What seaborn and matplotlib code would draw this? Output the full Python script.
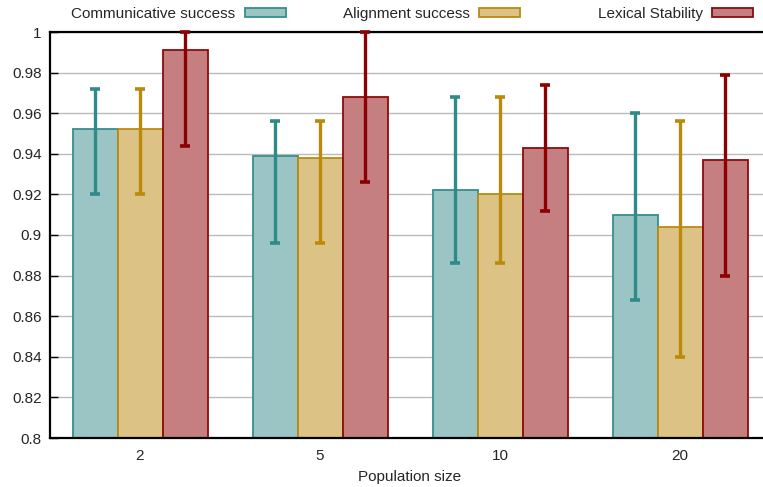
import numpy as np
import pandas as pd
import matplotlib
matplotlib.use("Agg")
import matplotlib.pyplot as plt
from matplotlib.patches import Patch
import seaborn as sns

# ---- data ----
pop_sizes = ["2", "5", "10", "20"]
metrics = ["Communicative success", "Alignment success", "Lexical Stability"]
comm_vals = [0.952, 0.939, 0.922, 0.910]
comm_lo = [0.920, 0.896, 0.886, 0.868]
comm_hi = [0.972, 0.956, 0.968, 0.960]
align_vals = [0.952, 0.938, 0.920, 0.904]
align_lo = [0.920, 0.896, 0.886, 0.840]
align_hi = [0.972, 0.956, 0.968, 0.956]
lex_vals = [0.991, 0.968, 0.943, 0.937]
lex_lo = [0.944, 0.926, 0.912, 0.880]
lex_hi = [1.000, 1.000, 0.974, 0.979]
y_ticks = [0.8, 0.82, 0.84, 0.86, 0.88, 0.9, 0.92, 0.94, 0.96, 0.98, 1.0]
y_tick_labels = ["0.8", "0.82", "0.84", "0.86", "0.88", "0.9", "0.92", "0.94", "0.96", "0.98", "1"]

vals = [comm_vals, align_vals, lex_vals]
los = [comm_lo, align_lo, lex_lo]
his = [comm_hi, align_hi, lex_hi]

fills = ["#9BC4C4", "#DCC385", "#C67F80"]
edges = ["#358E8E", "#BB8A10", "#8E0A0A"]
errc = ["#2F8A8A", "#BB8A08", "#8B0000"]

df = pd.DataFrame({
    "size": [s for m in metrics for s in pop_sizes],
    "metric": [m for m in metrics for _ in pop_sizes],
    "value": [v for vs in vals for v in vs],
})

sns.set_theme(style="white")
plt.rcParams["font.family"] = ["Liberation Sans", "DejaVu Sans"]

fig = plt.figure(figsize=(7.63, 4.87), dpi=100)
ax = fig.add_axes([50 / 763, 1 - 438 / 487, 720 / 763, (438 - 32) / 487])

sns.barplot(data=df, x="size", y="value", hue="metric", order=pop_sizes,
            hue_order=metrics, palette=fills, saturation=1, width=0.75, ax=ax,
            errorbar=None, legend=False, zorder=2)

for cont, ec in zip(ax.containers, edges):
    for p in cont:
        p.set_edgecolor(ec)
        p.set_linewidth(1.3)

for cont, v, lo, hi, c in zip(ax.containers, vals, los, his, errc):
    xs = [p.get_x() + p.get_width() / 2 for p in cont]
    v = np.array(v); lo = np.array(lo); hi = np.array(hi)
    ax.errorbar(xs, v, yerr=[v - lo, hi - v], fmt="none", ecolor=c,
                elinewidth=2.4, capsize=3.5, capthick=2.6, zorder=3,
                clip_on=False)

ax.set_ylim(0.8, 1.0)
ax.set_xlim(-0.5, 3.5)
ax.set_yticks(y_ticks)
ax.set_yticklabels(y_tick_labels)
ax.yaxis.grid(True, color="#BBBBBB", linewidth=1.0, zorder=0)
ax.set_axisbelow(True)
ax.tick_params(axis="y", direction="in", length=6, width=1.0, color="black",
               labelsize=11, pad=6, left=True)
ax.tick_params(axis="x", length=0, labelsize=11, pad=8)
for s in ["left", "bottom", "top"]:
    ax.spines[s].set_color("black")
    ax.spines[s].set_linewidth(1.6)
ax.spines["right"].set_visible(False)
ax.set_xlabel("Population size", fontsize=11, labelpad=5)
ax.set_ylabel("")

# legend: three right-aligned entries
ends = [286, 520, 753]
for m, f, ec, xe in zip(metrics, fills, edges, ends):
    fig.legend(handles=[Patch(facecolor=f, edgecolor=ec, linewidth=1.3, label=m)],
               loc="center right", bbox_to_anchor=(xe / 763, 1 - 14 / 487),
               frameon=False, markerfirst=False, fontsize=11,
               handlelength=2.7, handleheight=0.55, handletextpad=0.6,
               borderpad=0, borderaxespad=0)

fig.savefig("out.png", dpi=100)
